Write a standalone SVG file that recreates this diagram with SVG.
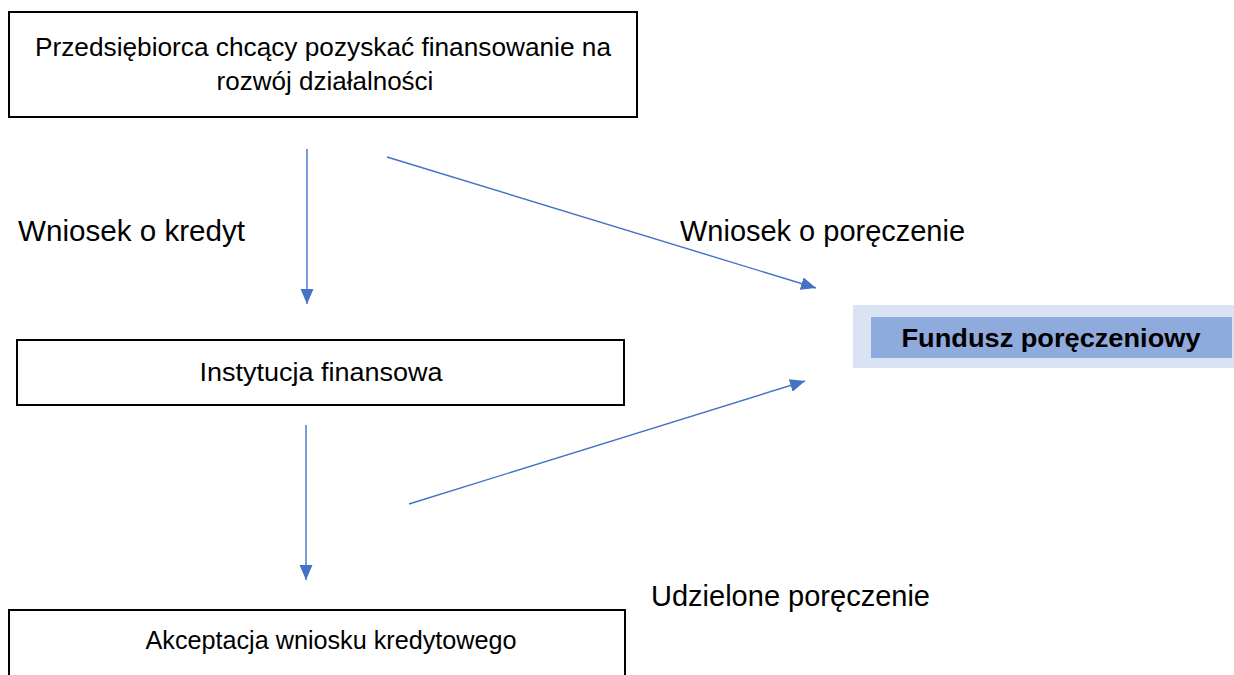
<svg xmlns="http://www.w3.org/2000/svg" width="1234" height="675" viewBox="0 0 1234 675">
<style>
.box{fill:#fff;stroke:#000;stroke-width:2}
.t{font-family:"Liberation Sans",Arial,sans-serif;font-size:26px;fill:#000;text-anchor:middle}
.lbl{font-family:"Liberation Sans",Arial,sans-serif;font-size:29px;fill:#000}
.c{stroke:#4472c4;stroke-width:1.4;fill:none;marker-end:url(#ah)}
</style>
<defs>
<marker id="ah" markerUnits="userSpaceOnUse" markerWidth="16" markerHeight="14" refX="15" refY="6.5" orient="auto">
<path d="M0,0 L15,6.5 L0,13 Z" fill="#4472c4"/>
</marker>
</defs>
<rect width="1234" height="675" fill="#fff"/>
<g id="n1">
<rect class="box" x="9" y="12" width="628" height="105"/>
<text class="t" x="323" y="56" textLength="576" lengthAdjust="spacingAndGlyphs">Przedsiębiorca chcący pozyskać finansowanie na</text>
<text class="t" x="325" y="90">rozwój działalności</text>
</g>
<g id="n2">
<rect class="box" x="17" y="340" width="607" height="65"/>
<text class="t" x="321" y="381" textLength="243" lengthAdjust="spacingAndGlyphs">Instytucja finansowa</text>
</g>
<g id="n3">
<rect class="box" x="9" y="610" width="616" height="80"/>
<text class="t" x="331" y="649" textLength="371" lengthAdjust="spacingAndGlyphs">Akceptacja wniosku kredytowego</text>
</g>
<g id="n4">
<rect x="853" y="305" width="381" height="63" fill="#dae3f3"/>
<rect x="871" y="317" width="361" height="41" fill="#8faadc"/>
<text x="1051" y="347" font-family="Liberation Sans,Arial,sans-serif" font-size="26" font-weight="bold" text-anchor="middle" textLength="299" lengthAdjust="spacingAndGlyphs">Fundusz poręczeniowy</text>
</g>
<g id="connectors">
<line class="c" x1="307" y1="149" x2="307" y2="304"/>
<line class="c" x1="387" y1="157" x2="816" y2="288"/>
<line class="c" x1="306" y1="425" x2="306" y2="580"/>
<line class="c" x1="409" y1="504" x2="805" y2="381"/>
</g>
<g id="labels">
<text class="lbl" x="18" y="241" textLength="227" lengthAdjust="spacingAndGlyphs">Wniosek o kredyt</text>
<text class="lbl" x="680" y="241" textLength="285" lengthAdjust="spacingAndGlyphs">Wniosek o poręczenie</text>
<text class="lbl" x="651" y="606" textLength="279" lengthAdjust="spacingAndGlyphs">Udzielone poręczenie</text>
</g>
</svg>
